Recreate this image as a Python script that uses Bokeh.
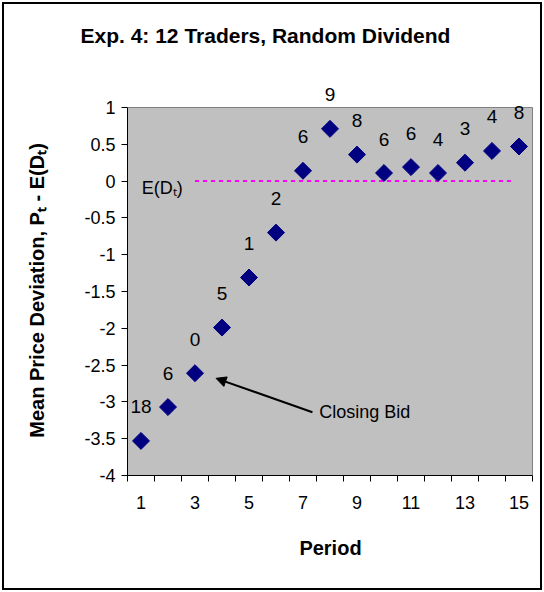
import math
from bokeh.plotting import figure
from bokeh.models import (ColumnDataSource, FixedTicker, NumeralTickFormatter, BoxAnnotation,
                          Label, Arrow, NormalHead, Range1d, InlineStyleSheet)
from bokeh.embed import file_html
from bokeh.resources import INLINE

# ---- data ----
periods = list(range(1, 16))
deviation = [-3.53, -3.07, -2.61, -1.99, -1.31, -0.70, 0.14, 0.71, 0.36, 0.11, 0.19, 0.11, 0.25, 0.41, 0.47]
traders = ["18", "6", "0", "5", "1", "2", "6", "9", "8", "6", "6", "4", "3", "4", "8"]
x_tick_labels = [1, 3, 5, 7, 9, 11, 13, 15]
x_boundaries = [i + 0.5 for i in range(0, 16)]
y_ticks = [-4, -3.5, -3, -2.5, -2, -1.5, -1, -0.5, 0, 0.5, 1]
y_min, y_max = -4, 1
x_min, x_max = 0.5, 15.5
ref_x = [3, 14.7]
ref_y = [0, 0]

FONT = "Liberation Sans"

# frame extends above y=1 so that the data labels above the plot area are not clipped
p = figure(width=544, height=592, output_backend="svg", toolbar_location=None,
           x_range=Range1d(x_min, x_max + 1 / 27), y_range=Range1d(y_min, y_max + 41 / 73.6),
           min_border_left=127, min_border_right=11, min_border_top=66, min_border_bottom=117,
           background_fill_color="white", border_fill_color="white")
p.outline_line_color = None
p.xgrid.visible = False
p.ygrid.visible = False
p.stylesheets = [InlineStyleSheet(css=(
    ":host { position: relative; }"
    ":host::after { content: ''; position: absolute; left: 2px; top: 2px; right: 2px; bottom: 2px;"
    " border: 2px solid black; pointer-events: none; z-index: 100; }"))]

# plot area
p.add_layout(BoxAnnotation(left=x_min, right=x_max, bottom=y_min, top=y_max,
                           fill_color="#C0C0C0", fill_alpha=1.0,
                           line_color="#808080", line_width=1, line_alpha=1.0, level="underlay"))

# title
p.title.text = "Exp. 4: 12 Traders, Random Dividend"
p.title.text_font = FONT
p.title.text_font_size = "21px"
p.title.text_font_style = "bold"
p.title.text_color = "black"
p.title.align = "left"
p.title.offset = -47
p.title.standoff = 40

# x axis
xa = p.xaxis[0]
xa.bounds = (x_min, x_max)
xa.ticker = FixedTicker(ticks=x_tick_labels, minor_ticks=x_boundaries)
xa.major_tick_in = 0
xa.major_tick_out = 0
xa.minor_tick_in = 0
xa.minor_tick_out = 6
xa.minor_tick_line_color = "black"
xa.axis_line_color = "black"
xa.major_label_standoff = 14
xa.major_label_text_font = FONT
xa.major_label_text_font_size = "18px"
xa.major_label_text_color = "black"
xa.axis_label = "Period"
xa.axis_label_text_font = FONT
xa.axis_label_text_font_size = "20px"
xa.axis_label_text_font_style = "bold"
xa.axis_label_text_color = "black"
xa.axis_label_standoff = 25

# y axis (trailing no-break spaces keep the label centred on the grey plot area)
ya = p.yaxis[0]
ya.bounds = (y_min, y_max)
ya.ticker = FixedTicker(ticks=y_ticks, minor_ticks=[])
ya.formatter = NumeralTickFormatter(format="0.[0]")
ya.major_tick_in = 0
ya.major_tick_out = 6
ya.major_label_standoff = 6
ya.major_label_text_font = FONT
ya.major_label_text_font_size = "18px"
ya.major_label_text_color = "black"
ya.axis_line_color = "black"
ya.axis_label = "Mean Price Deviation, P\u209c - E(D\u209c)" + "\u00a0" * 7
ya.axis_label_text_font = FONT
ya.axis_label_text_font_size = "20px"
ya.axis_label_text_font_style = "bold"
ya.axis_label_text_color = "black"
ya.axis_label_standoff = 33

# reference line
p.line(ref_x, ref_y, line_color="#FF00FF", line_width=2, line_dash="4 4")

# markers
src = ColumnDataSource(dict(x=periods, y=deviation, t=traders))
p.scatter("x", "y", source=src, marker="square", size=12, angle=math.pi / 4,
          fill_color="#000080", line_color="#000080")

# data labels
for xv, yv, tv in zip(periods, deviation, traders):
    p.add_layout(Label(x=xv, y=yv, text=tv, y_offset=34,
                       text_align="center", text_baseline="middle",
                       text_font=FONT, text_font_size="19px", text_color="black"))

p.add_layout(Label(x=1.03, y=-0.1, text="E(D\u209c)", text_align="left", text_baseline="middle",
                   text_font=FONT, text_font_size="18px", text_color="black"))

p.add_layout(Label(x=7.6, y=-3.14, text="Closing Bid", text_align="left", text_baseline="middle",
                   text_font=FONT, text_font_size="18px", text_color="black"))
p.add_layout(Arrow(x_start=7.35, y_start=-3.14, x_end=3.78, y_end=-2.68,
                   line_color="black", line_width=2,
                   end=NormalHead(size=10, fill_color="black", line_color="black")))

open("out.html", "w").write(file_html(p, INLINE))
